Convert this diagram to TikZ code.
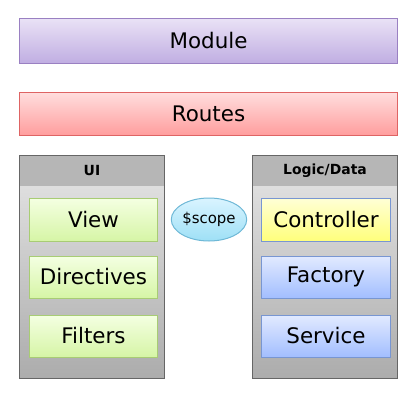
\documentclass[tikz,border=0pt]{standalone}
\usepackage{fontspec}
\setmainfont{DejaVu Sans}
\usepackage{tikz}
\usetikzlibrary{shapes.geometric}

\definecolor{modtop}{HTML}{EAE2F6}
\definecolor{modbot}{HTML}{C0AEE2}
\definecolor{modline}{HTML}{9A80C2}
\definecolor{routop}{HTML}{FFDEDE}
\definecolor{roubot}{HTML}{FF9E9E}
\definecolor{rouline}{HTML}{DE6464}
\definecolor{boxtop}{HTML}{E6E6E6}
\definecolor{boxbot}{HTML}{ACACAC}
\definecolor{boxhead}{HTML}{B6B6B6}
\definecolor{boxline}{HTML}{666666}
\definecolor{uitop}{HTML}{F4FFE2}
\definecolor{uibot}{HTML}{D6F5A6}
\definecolor{uiline}{HTML}{A8CC74}
\definecolor{ctltop}{HTML}{FFFFD6}
\definecolor{ctlbot}{HTML}{FFFF7C}
\definecolor{dattop}{HTML}{E2EAFF}
\definecolor{datbot}{HTML}{A2BEFF}
\definecolor{datline}{HTML}{7896D2}
\definecolor{scotop}{HTML}{DAF4FF}
\definecolor{scobot}{HTML}{9EE0F6}
\definecolor{scoline}{HTML}{6EB8D6}

\begin{document}
\begin{tikzpicture}[x=1bp, y=-1bp, line width=1bp,
    bar/.style = {rectangle, minimum width=377bp, inner sep=0pt,
      font=\fontsize{21.5}{24}\selectfont},
    part/.style = {rectangle, minimum width=127bp, minimum height=43bp,
      inner sep=0pt, font=\fontsize{21.5}{24}\selectfont},
    ui/.style = {part, draw=uiline, top color=uitop, bottom color=uibot},
    data/.style = {part, draw=datline, top color=dattop, bottom color=datbot},
    holder/.style = {rectangle, minimum width=144bp, minimum height=222bp,
      inner sep=0pt, top color=boxtop, bottom color=boxbot},
    head/.style = {rectangle, anchor=north, minimum width=144bp,
      minimum height=30bp, inner sep=0pt, fill=boxhead,
      font=\bfseries\fontsize{14}{16}\selectfont}]
  \useasboundingbox (0,0) rectangle (418,400);

  % top bars
  \node[bar, minimum height=45bp, draw=modline, top color=modtop,
    bottom color=modbot] (module) at (208.5,40.5) {Module};
  \node[bar, minimum height=43bp, draw=rouline, top color=routop,
    bottom color=roubot] (routes) at (208.5,113.5) {Routes};

  % containers
  \node[holder] (uibox) at (92,267) {};
  \node[head] (uihead) at (uibox.north) {UI};
  \draw[boxline] (uibox.north west) rectangle (uibox.south east);
  \node[holder] (logic) at (325,267) {};
  \node[head] (logichead) at (logic.north) {Logic/Data};
  \draw[boxline] (logic.north west) rectangle (logic.south east);

  % UI parts
  \node[ui] (view) at (93.5,219.5) {View};
  \node[ui, minimum height=42bp] (directives) at (93.5,277) {Directives};
  \node[ui, minimum height=42bp] (filters) at (93.5,336) {Filters};

  % logic parts
  \node[part, minimum width=128bp, draw=datline, top color=ctltop,
    bottom color=ctlbot] (ctrl) at (326,219.5) {Controller};
  \node[data, minimum width=128bp, minimum height=42bp] (factory) at (326,277) {Factory};
  \node[data, minimum width=128bp, minimum height=42bp] (service) at (326,336) {Service};

  % scope
  \node[ellipse, minimum width=70bp, minimum height=43bp, inner sep=0pt,
    draw=scoline, top color=scotop, bottom color=scobot,
    font=\fontsize{15}{17}\selectfont] (scope) at (209,219.5) {\$scope};
\end{tikzpicture}
\end{document}
